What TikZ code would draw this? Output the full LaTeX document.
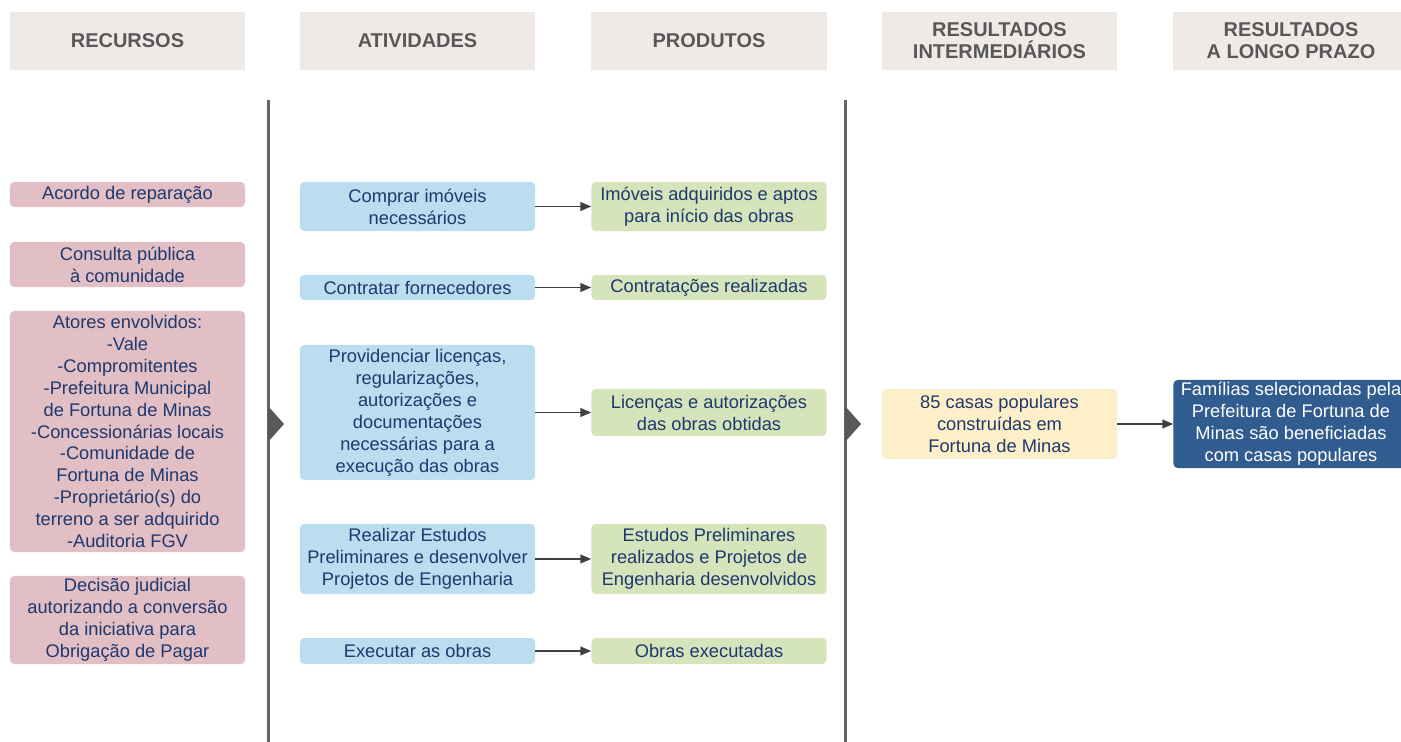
\documentclass[tikz,border=0pt]{standalone}
\usepackage{fontspec}
\setmainfont{Liberation Sans}
\usetikzlibrary{arrows.meta}

\definecolor{headfill}{RGB}{239,234,230}
\definecolor{headtext}{RGB}{88,88,90}
\definecolor{navy}{RGB}{31,56,110}
\definecolor{pinkfill}{RGB}{225,191,196}
\definecolor{bluefill}{RGB}{187,221,240}
\definecolor{greenfill}{RGB}{213,228,186}
\definecolor{yellowfill}{RGB}{253,240,200}
\definecolor{darkfill}{RGB}{49,92,143}
\definecolor{linegray}{RGB}{100,100,102}

\begin{document}
\begin{tikzpicture}[x=0.025cm, y=-0.025cm,
    header/.style={rectangle, fill=headfill, text=headtext, minimum width=5.875cm,
      minimum height=1.45cm, align=center, inner sep=1pt,
      font=\bfseries\fontsize{14.2}{15.8}\selectfont},
    box/.style={rectangle, rounded corners=3, minimum width=5.875cm, inner sep=1pt,
      align=center, text=navy, font=\fontsize{13}{15.6}\selectfont},
    recurso/.style={box, fill=pinkfill},
    atividade/.style={box, fill=bluefill},
    produto/.style={box, fill=greenfill},
    flecha/.style={draw=black!75, line width=1pt, -{Triangle[length=0.27cm, width=0.22cm]}}]
    \useasboundingbox (0,0) rectangle (1401,742);

    % Column headers
    \node[header] (hrec) at (127.5,41) {RECURSOS};
    \node[header] (hativ) at (417.5,41) {ATIVIDADES};
    \node[header] (hprod) at (709,41) {PRODUTOS};
    \node[header] (hint) at (999.5,41) {RESULTADOS\\INTERMEDIÁRIOS};
    \node[header] (hlong) at (1291,41) {RESULTADOS\\A LONGO PRAZO};

    % Separators with their triangles
    \draw[linegray, line width=0.075cm] (268,100) -- (268,742);
    \draw[linegray, line width=0.075cm] (845,100) -- (845,742);
    \fill[headtext] (268,406) -- (284,424) -- (268,442) -- cycle;
    \fill[headtext] (845,406) -- (861,424) -- (845,442) -- cycle;

    % Recursos
    \node[recurso, minimum height=0.625cm] (rec1) at (127.5,194.5) {Acordo de reparação};
    \node[recurso, minimum height=1.125cm] (rec2) at (127.5,264.5) {Consulta pública\\à comunidade};
    \node[recurso, minimum height=6.025cm] (rec3) at (127.5,431.5) {Atores envolvidos:\\-Vale\\-Compromitentes\\-Prefeitura Municipal\\de Fortuna de Minas\\-Concessionárias locais\\-Comunidade de\\Fortuna de Minas\\-Proprietário(s) do\\terreno a ser adquirido\\-Auditoria FGV};
    \node[recurso, minimum height=2.2cm] (rec4) at (127.5,620) {Decisão judicial\\autorizando a conversão\\da iniciativa para\\Obrigação de Pagar};

    % Atividades
    \node[atividade, minimum height=1.225cm] (ativ1) at (417.5,206.5) {Comprar imóveis\\necessários};
    \node[atividade, minimum height=0.625cm] (ativ2) at (417.5,287.5) {Contratar fornecedores};
    \node[atividade, minimum height=3.375cm] (ativ3) at (417.5,412.5) {Providenciar licenças,\\regularizações,\\autorizações e\\documentações\\necessárias para a\\execução das obras};
    \node[atividade, minimum height=1.75cm] (ativ4) at (417.5,559) {Realizar Estudos\\Preliminares e desenvolver\\Projetos de Engenharia};
    \node[atividade, minimum height=0.65cm] (ativ5) at (417.5,651) {Executar as obras};

    % Produtos
    \node[produto, minimum height=1.225cm] (prod1) at (709,206.5) {Imóveis adquiridos e aptos\\para início das obras};
    \node[produto, minimum height=0.625cm] (prod2) at (709,287.5) {Contratações realizadas};
    \node[produto, minimum height=1.175cm] (prod3) at (709,412.5) {Licenças e autorizações\\das obras obtidas};
    \node[produto, minimum height=1.75cm] (prod4) at (709,559) {Estudos Preliminares\\realizados e Projetos de\\Engenharia desenvolvidos};
    \node[produto, minimum height=0.65cm] (prod5) at (709,651) {Obras executadas};

    % Resultados
    \node[box, fill=yellowfill, minimum height=1.75cm] (inter) at (999.5,424) {85 casas populares\\construídas em\\Fortuna de Minas};
    \node[box, fill=darkfill, text=white, minimum height=2.2cm] (longo) at (1291,424) {Famílias selecionadas pela\\Prefeitura de Fortuna de\\Minas são beneficiadas\\com casas populares};

    % Arrows
    \foreach \i in {1,...,5}
      \draw[flecha] (ativ\i.east) -- (prod\i.west);
    \draw[flecha] (inter.east) -- (longo.west);
\end{tikzpicture}
\end{document}
